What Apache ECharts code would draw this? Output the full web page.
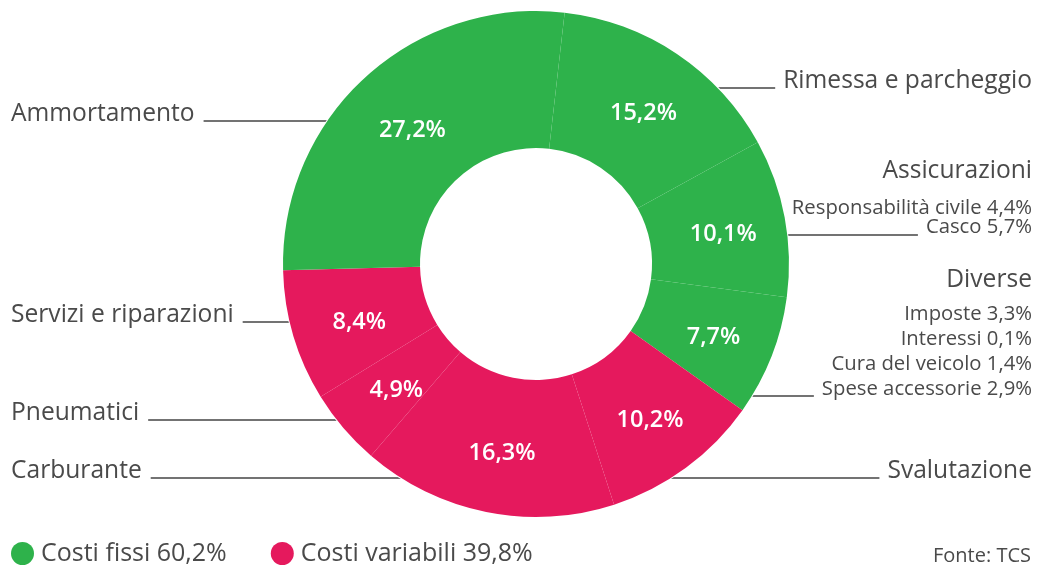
<!DOCTYPE html>
<html>
<head>
    <meta charset="utf-8">
    <title>Costi di un'automobile</title>
    <script src="https://cdn.jsdelivr.net/npm/echarts@6/dist/echarts.min.js"></script>
    <style>body { margin: 0; background: #fff; }</style>
</head>
<body>
    <div id="main" style="width: 1040px;height:570px;"></div>
    <script type="text/javascript">
        // dati (quote in %)
        var voci = ['Rimessa e parcheggio', 'Assicurazioni', 'Diverse', 'Svalutazione',
                    'Carburante', 'Pneumatici', 'Servizi e riparazioni', 'Ammortamento'];
        var quote = [15.2, 10.1, 7.7, 10.2, 16.3, 4.9, 8.4, 27.2];
        var tipo = ['fissi', 'fissi', 'fissi', 'variabili', 'variabili', 'variabili', 'variabili', 'fissi'];

        var assicurazioniVoci = ['Responsabilità civile', 'Casco'];
        var assicurazioniQuote = [4.4, 5.7];
        var diverseVoci = ['Imposte', 'Interessi', 'Cura del veicolo', 'Spese accessorie'];
        var diverseQuote = [3.3, 0.1, 1.4, 2.9];

        var gruppi = ['fissi', 'variabili'];
        var gruppiNomi = ['Costi fissi', 'Costi variabili'];

        // posizione delle linee di richiamo (y) e lato dell'etichetta
        var lineaY = [88, 235, 396, 478, 478, 420, 322, 121];
        var lato = ['r', 'r', 'r', 'r', 'l', 'l', 'l', 'l'];

        var VERDE = '#2eb24b', ROSSO = '#e5195d', TESTO = '#4a4a4a';
        var FONT = '"Open Sans", sans-serif';
        var CX = 536, CY = 264, R0 = 116, R1 = 253;
        var FS = 24.6, FS_SUB = 20.3;

        function pct(v) { return v.toFixed(1).replace('.', ',') + '%'; }
        function colore(t) { return t === 'fissi' ? VERDE : ROSSO; }

        var misura = document.createElement('canvas').getContext('2d');
        function larghezza(testo, size) {
            misura.font = size + 'px "Open Sans"';
            return misura.measureText(testo).width;
        }

        var dettagli = voci.map(function () { return []; });
        dettagli[1] = assicurazioniVoci.map(function (n, i) { return n + ' ' + pct(assicurazioniQuote[i]); });
        dettagli[2] = diverseVoci.map(function (n, i) { return n + ' ' + pct(diverseQuote[i]); });

        // ultima riga di ogni etichetta: [fontSize, lineHeight, correzione]
        function ultimaRiga(i) {
            if (i === 1) return [FS_SUB, 19, 0];
            if (i === 2) return [FS_SUB, 25, 1];
            return [FS, 30, 3];
        }
        function testoUltimaRiga(i) {
            return dettagli[i].length ? dettagli[i][dettagli[i].length - 1] : voci[i];
        }

        var datiFette = voci.map(function (v, i) {
            return { name: v, value: quote[i], itemStyle: { color: colore(tipo[i]) } };
        });

        var totali = gruppi.map(function (g) {
            var s = 0;
            quote.forEach(function (q, i) { if (tipo[i] === g) s += q; });
            return s;
        });
        var datiLegenda = gruppi.map(function (g, k) {
            return { name: gruppiNomi[k] + ' ' + pct(totali[k]), value: totali[k], itemStyle: { color: colore(g) } };
        });

        var chart = echarts.init(document.getElementById('main'));

        chart.setOption({
            animation: false,
            textStyle: { fontFamily: FONT },
            title: {
                text: 'Fonte: TCS',
                right: 9,
                top: 544,
                padding: 0,
                textStyle: { fontSize: 20, lineHeight: 24, fontWeight: 'normal', color: TESTO, fontFamily: FONT }
            },
            legend: {
                data: datiLegenda.map(function (d) { return d.name; }),
                left: 11,
                top: 541,
                padding: 0,
                icon: 'circle',
                itemWidth: 23,
                itemHeight: 23,
                itemGap: 44,
                textStyle: { fontSize: 25, lineHeight: 24, color: TESTO, fontFamily: FONT, padding: [0, 0, 0, 2] }
            },
            series: [
                {
                    type: 'pie',
                    center: [CX, CY],
                    radius: [R0, R1],
                    startAngle: 83.5,
                    clockwise: true,
                    silent: true,
                    itemStyle: { borderColor: '#fff', borderWidth: 2 },
                    label: {
                        position: 'inside',
                        offset: [3, 5],
                        color: '#fff',
                        fontSize: 23.5,
                        fontWeight: 600,
                        fontFamily: FONT,
                        formatter: function (p) { return pct(p.value); }
                    },
                    labelLine: { show: false },
                    data: datiFette
                },
                {
                    type: 'pie',
                    center: [CX, CY],
                    radius: [R0, R1],
                    startAngle: 83.5,
                    clockwise: true,
                    silent: true,
                    avoidLabelOverlap: false,
                    itemStyle: { color: 'rgba(0,0,0,0)', borderWidth: 0 },
                    label: {
                        position: 'outside',
                        width: 420,
                        overflow: 'none',
                        color: TESTO,
                        fontFamily: FONT,
                        formatter: function (p) {
                            var i = p.dataIndex, s = lato[i];
                            if (i === 1 || i === 2) {
                                var k = i === 1 ? 'a' : 'd';
                                return '{t' + k + '|' + voci[i] + '}\n' +
                                    dettagli[i].map(function (d) { return '{s' + k + '|' + d + '}'; }).join('\n');
                            }
                            return '{t' + s + '|' + voci[i] + '}';
                        },
                        rich: {
                            tl: { fontSize: FS, lineHeight: 30, color: TESTO, fontFamily: FONT, align: 'left' },
                            tr: { fontSize: FS, lineHeight: 30, color: TESTO, fontFamily: FONT, align: 'right' },
                            ta: { fontSize: FS, lineHeight: 56, color: TESTO, fontFamily: FONT, align: 'right' },
                            sa: { fontSize: FS_SUB, lineHeight: 19, color: TESTO, fontFamily: FONT, align: 'right' },
                            td: { fontSize: FS, lineHeight: 44, color: TESTO, fontFamily: FONT, align: 'right' },
                            sd: { fontSize: FS_SUB, lineHeight: 25, color: TESTO, fontFamily: FONT, align: 'right' }
                        }
                    },
                    labelLine: { show: true, smooth: false, lineStyle: { color: '#444', width: 1.5 } },
                    labelLayout: function (params) {
                        var i = params.dataIndex;
                        var y = lineaY[i];
                        var ur = ultimaRiga(i);
                        var w = larghezza(testoUltimaRiga(i), ur[0]);
                        var dx = Math.sqrt(R1 * R1 - (y - CY) * (y - CY));
                        var by = y + ur[1] / 2 - 0.388 * ur[0] + ur[2];
                        if (lato[i] === 'r') {
                            var xr = 1032;
                            var inizio = xr - w - 8;
                            var fine = CX + dx - 5;
                            return {
                                x: xr, y: by, align: 'right', verticalAlign: 'bottom',
                                labelLinePoints: [[fine, y], [(fine + inizio) / 2, y], [inizio, y]]
                            };
                        }
                        var xl = 11;
                        var inizioL = xl + w + 9;
                        var fineL = CX - dx + 5;
                        return {
                            x: xl, y: by, align: 'left', verticalAlign: 'bottom',
                            labelLinePoints: [[fineL, y], [(fineL + inizioL) / 2, y], [inizioL, y]]
                        };
                    },
                    data: datiFette
                },
                {
                    type: 'pie',
                    center: [CX, CY],
                    radius: [0, 0],
                    silent: true,
                    label: { show: false },
                    labelLine: { show: false },
                    data: datiLegenda
                }
            ]
        });
    </script>
</body>
</html>
